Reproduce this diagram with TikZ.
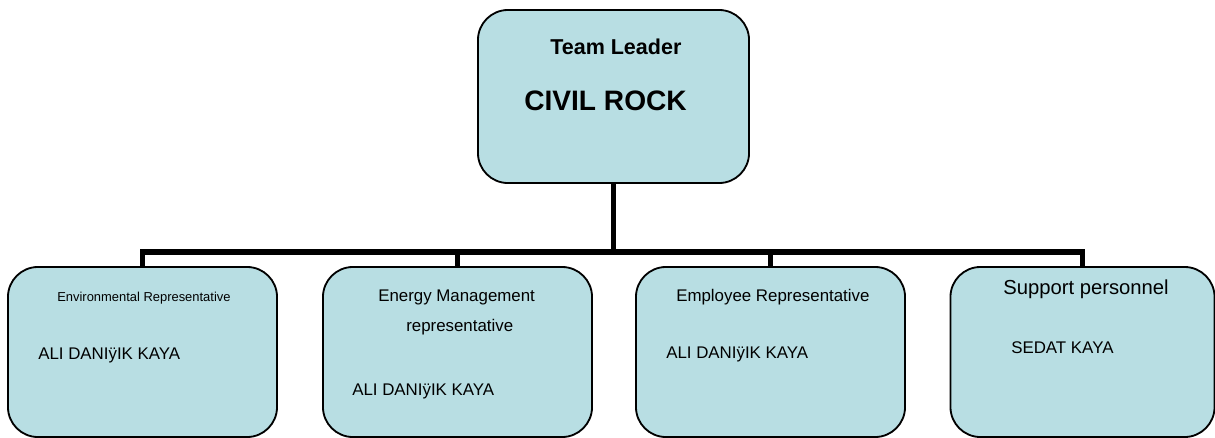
\documentclass[tikz,border=0pt]{standalone}
\usepackage{fontspec}
\setmainfont{Liberation Sans}
\usepackage{xcolor}
\usepackage{tikz}
\definecolor{boxfill}{RGB}{184,222,227}

\begin{document}
\begin{tikzpicture}[x=0.025cm,y=-0.025cm,line join=miter,
  box/.style={draw,line width=1.3pt,fill=boxfill,rounded corners=0.75cm,inner sep=0pt},
  wire/.style={line width=3.6pt},
  txt/.style={inner sep=0pt,anchor=west}]
\useasboundingbox (0,0) rectangle (1215,437);
% Boxes of the chart
  \node[box,minimum width=6.775cm,minimum height=4.325cm] (lead) at (613.5,96.5) {};
  \node[box,minimum width=6.725cm,minimum height=4.25cm] (env) at (142.5,352) {};
  \node[box,minimum width=6.725cm,minimum height=4.25cm] (enm) at (457.5,352) {};
  \node[box,minimum width=6.725cm,minimum height=4.25cm] (emp) at (770.5,352) {};
  \node[box,minimum width=6.6cm,minimum height=4.25cm] (sup) at (1082.5,352) {};
% Connectors
  \coordinate (bus) at (0,252);
  \draw[wire] (lead.south) -- (lead.south |- bus);
  \draw[wire] (env.north) -- (env.north |- bus) -- (sup.north |- bus) -- (sup.north);
  \foreach \n in {enm,emp} { \draw[wire] (\n.north) -- (\n.north |- bus); }
% Texts
  \node[txt,font=\fontsize{15.3}{18}\selectfont\bfseries] (leadtitle) at (550,47) {Team Leader};
  \node[txt,font=\fontsize{20}{24}\selectfont\bfseries] (leadname) at (524,101) {CIVIL ROCK};
  \node[txt,font=\fontsize{9.2}{11}\selectfont] (envtitle) at (57,298) {Environmental Representative};
  \node[txt,font=\fontsize{12}{14}\selectfont] (envname) at (38,355) {ALI DANIÿIK KAYA};
  \node[txt,font=\fontsize{12}{14}\selectfont] (enmtitle) at (378,297) {Energy Management};
  \node[txt,font=\fontsize{12}{14}\selectfont] (enmtitleb) at (406,327) {representative};
  \node[txt,font=\fontsize{12}{14}\selectfont] (enmname) at (352,391) {ALI DANIÿIK KAYA};
  \node[txt,font=\fontsize{12}{14}\selectfont] (emptitle) at (676,297) {Employee Representative};
  \node[txt,font=\fontsize{12}{14}\selectfont] (empname) at (666,354) {ALI DANIÿIK KAYA};
  \node[txt,font=\fontsize{14.4}{17}\selectfont] (suptitle) at (1003,289.5) {Support personnel};
  \node[txt,font=\fontsize{12}{14}\selectfont] (supname) at (1011,348) {SEDAT KAYA};
\end{tikzpicture}
\end{document}
